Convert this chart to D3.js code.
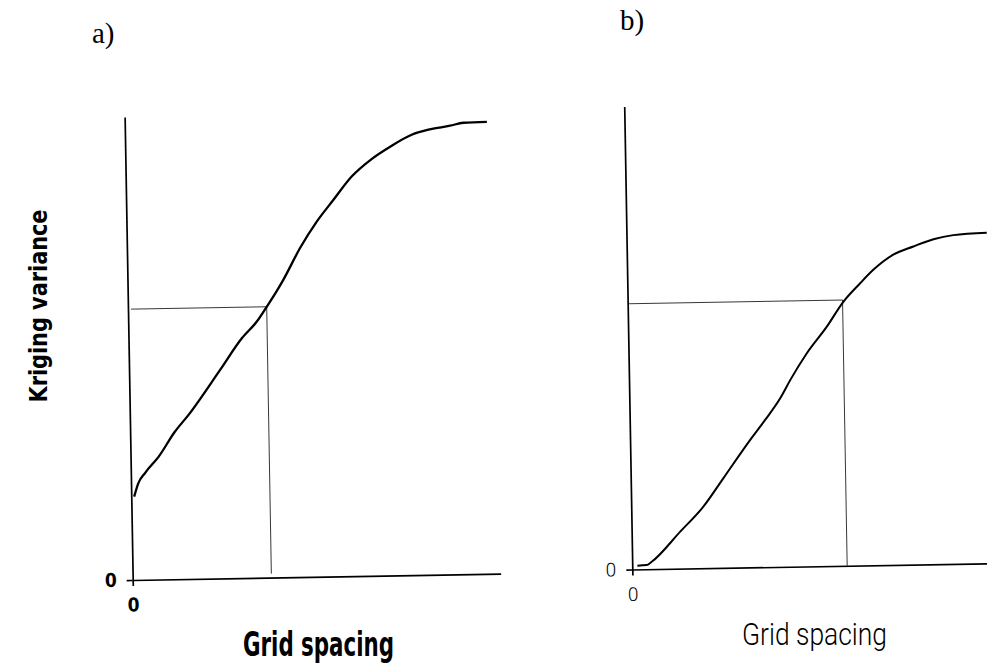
<!DOCTYPE html>
<html>
<head>
<meta charset="utf-8">
<script src="https://cdn.jsdelivr.net/npm/d3@7"></script>
<style>
  body { margin: 0; background: #fff; }
  .axis .domain { stroke: #000; stroke-width: 1.7; }
  .axis .tick line { stroke: #000; stroke-width: 1.7; }
</style>
</head>
<body>
<div id="chart"></div>
<script>
// panel a: kriging variance against grid spacing (relative units, 0-100)
const gridA = [0.8, 2.0, 3.9, 7.6, 12.2, 15.9, 24.7, 30.8, 34.9, 37.7, 41.0, 42.3, 47.0, 51.7, 56.3, 61.4, 66.9, 72.0, 77.9, 82.9, 88.4, 92.0, 98.4];
const varA = [18.0, 20.9, 23.1, 26.5, 31.9, 35.4, 45.0, 51.8, 55.3, 58.5, 62.5, 64.2, 71.0, 76.7, 81.3, 86.3, 90.0, 92.6, 95.1, 96.2, 96.9, 97.5, 97.6];
const refA = [37.7, 58.5];

// panel b
const gridB = [1.4, 3.9, 5.3, 13.2, 19.6, 25.2, 32.6, 36.8, 41.0, 43.8, 48.4, 54.0, 58.6, 63.2, 66.9, 72.4, 77.9, 83.4, 88.8, 97.9];
const varB = [0.8, 0.9, 1.6, 8.0, 13.3, 19.4, 27.5, 31.8, 36.4, 40.3, 46.0, 51.7, 57.0, 60.9, 63.8, 67.0, 68.7, 70.2, 71.0, 71.4];
const refB = [58.4, 57.4];

const zeroTick = [0];
const xTitle = "Grid spacing";
const yTitle = "Kriging variance";

const w = 987;
const h = 669;
const plotW = 368;
const plotH = 463;
const tilt = -1; // the scanned figure is turned slightly

const svg = d3.select("#chart").append("svg").attr("width", w).attr("height", h);

const x = d3.scaleLinear().domain([0, 100]).range([0, plotW]);
const y = d3.scaleLinear().domain([0, 100]).range([plotH, 0]);

const panel = (o) => {
  const g = svg
    .append("g")
    .attr("transform", `translate(${o.ox},${o.oy}) rotate(${tilt}) translate(0,${-plotH})`);

  const fontAxis = o.bold
    ? "font-family:'Liberation Sans Narrow','DejaVu Sans Condensed',sans-serif;font-weight:bold"
    : "font-family:Roboto,'DejaVu Sans Condensed',sans-serif;font-weight:300";

  g.append("g")
    .attr("class", "axis")
    .attr("transform", `translate(0,${plotH})`)
    .call(d3.axisBottom(x).tickValues(zeroTick).tickSize(6).tickSizeOuter(0).tickPadding(12).tickFormat(d3.format("d")));
  g.append("g")
    .attr("class", "axis")
    .call(d3.axisLeft(y).tickValues(zeroTick).tickSize(6).tickSizeOuter(0).tickPadding(10).tickFormat(d3.format("d")));
  g.selectAll(".axis text").attr("style", fontAxis + ";font-size:19px").attr("fill", "#000");

  // reference lines
  g.append("line")
    .attr("x1", x(0) + o.hStart)
    .attr("x2", x(o.ref[0]))
    .attr("y1", y(o.ref[1]))
    .attr("y2", y(o.ref[1]))
    .attr("stroke", "#222")
    .attr("stroke-width", 0.9);
  g.append("line")
    .attr("x1", x(o.ref[0]))
    .attr("x2", x(o.ref[0]))
    .attr("y1", y(o.ref[1]))
    .attr("y2", y(0) - o.vGap)
    .attr("stroke", "#222")
    .attr("stroke-width", 0.9);

  const line = d3
    .line()
    .x((d) => x(d[0]))
    .y((d) => y(d[1]))
    .curve(d3.curveMonotoneX);
  g.append("path")
    .datum(d3.zip(o.xs, o.ys))
    .attr("d", line)
    .attr("fill", "none")
    .attr("stroke", "#000")
    .attr("stroke-width", o.bold ? 2.3 : 2);

  // titles, in page coordinates
  svg
    .append("text")
    .attr("x", o.tag[0])
    .attr("y", o.tag[1])
    .attr("style", "font-family:'Liberation Serif','Times New Roman',serif;font-size:29px")
    .text(o.tagText);
  svg
    .append("text")
    .attr("x", o.xt[0])
    .attr("y", o.xt[1])
    .attr("textLength", o.xt[2])
    .attr("lengthAdjust", "spacingAndGlyphs")
    .attr("style", fontAxis + `;font-size:${o.xt[3]}px`)
    .text(xTitle);
};

panel({ ox: 132.7, oy: 580, xs: gridA, ys: varA, ref: refA, hStart: 3, vGap: 4, bold: true, tag: [92, 43], tagText: "a)", xt: [243, 656, 151, 33] });
panel({ ox: 632.3, oy: 569.5, xs: gridB, ys: varB, ref: refB, hStart: 1, vGap: 0, bold: false, tag: [620, 30], tagText: "b)", xt: [742, 645, 145, 32] });

svg
  .append("text")
  .attr("transform", "translate(47,306) rotate(-90)")
  .attr("text-anchor", "middle")
  .attr("textLength", 193)
  .attr("lengthAdjust", "spacingAndGlyphs")
  .attr("style", "font-family:'Liberation Sans Narrow','DejaVu Sans Condensed',sans-serif;font-weight:bold;font-size:24px")
  .text(yTitle);
</script>
</body>
</html>
